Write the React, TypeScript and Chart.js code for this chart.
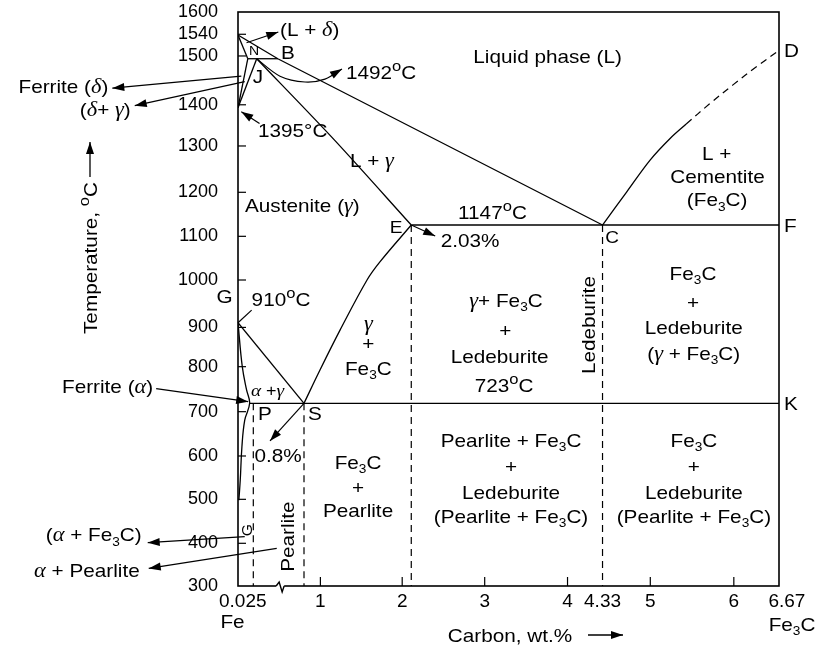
import React, { useEffect, useRef } from 'react';
import { Chart, registerables, LinearScale } from 'chart.js';

Chart.register(...registerables);

// ---------------- data (carbon wt.% / temperature °C) ----------------
const X_TICKS = [0.025, 1, 2, 3, 4, 4.33, 5, 6, 6.67];
const X_TICK_LABELS = ['0.025', '1', '2', '3', '4', '4.33', '5', '6', '6.67'];
const Y_TICKS = [300, 400, 500, 600, 700, 800, 900, 1000, 1100, 1200, 1300, 1400, 1500, 1540, 1600];
const Y_TICK_LABELS = ['300', '400', '500', '600', '700', '800', '900', '1000', '1100', '1200', '1300', '1400', '1500', '1540', '1600'];
const X_MARKS = [1, 2, 3, 4, 5, 6];
const Y_MARKS = [400, 500, 600, 700, 800, 900, 1000, 1100, 1200, 1300, 1400, 1500, 1540];
const AXIS_BREAK_C = 0.42;

// Liquidus A-B-C
const LIQ_ABC_C = [0, 0.4, 4.33];
const LIQ_ABC_T = [1538, 1495, 1147];
// Liquidus C-D (solid part, then dashed part)
const LIQ_CD_C = [4.33, 4.67, 5.0, 5.24, 5.43];
const LIQ_CD_T = [1147, 1201, 1270, 1319, 1354];
const LIQ_CD_EXT_C = [5.43, 5.71, 5.99, 6.34, 6.67];
const LIQ_CD_EXT_T = [1354, 1402, 1441, 1479, 1510];
// delta region
const SOL_AH_C = [0, 0.016];
const SOL_AH_T = [1538, 1495];
const PERI_HB_C = [0.016, 0.4];
const PERI_HB_T = [1495, 1495];
const NH_C = [0, 0.016];
const NH_T = [1394, 1495];
const NJ_C = [0, 0.077];
const NJ_T = [1394, 1495];
// Solidus J-E
const SOL_JE_C = [0.077, 1.17, 2.11];
const SOL_JE_T = [1495, 1315, 1147];
// Eutectic E-C-F
const EUT_C = [2.11, 6.67];
const EUT_T = [1147, 1147];
// A3 line G-S
const GS_C = [0, 0.8];
const GS_T = [912, 723];
// alpha boundary G-P-Q
const GPQ_C = [0, 0.007, 0.014, 0.019, 0.011, 0.0064, 0.0037, 0.0014];
const GPQ_T = [912, 800, 751, 723, 681, 621, 545, 498];
// Acm line E-S
const ES_C = [2.11, 1.73, 1.57, 1.24, 0.995, 0.8];
const ES_T = [1147, 1042, 1000, 893, 793, 723];
// Eutectoid P-S-K
const EUTD_C = [0.019, 6.67];
const EUTD_T = [723, 723];
// dashed composition lines
const DASH_C = [0.025, 0.8, 2.11, 4.33];
const DASH_TOP = [723, 723, 1147, 1147];
const DASH_BOTTOM = 300;

// ---------------- scale calibration (value -> fraction of axis) ----------------
const X_CAL: number[][] = [[0, 0], [0.025, 0.0283], [0.8, 0.122], [1, 0.1523], [2, 0.3035], [3, 0.456], [4, 0.6091], [4.33, 0.6738], [5, 0.7621], [6, 0.9165], [6.67, 1]];
const Y_CAL: number[][] = [[300, 0], [400, 0.0744], [500, 0.151], [600, 0.2265], [700, 0.3037], [723, 0.3183], [800, 0.3821], [912, 0.4587], [1000, 0.5331], [1100, 0.6092], [1147, 0.6289], [1200, 0.6859], [1300, 0.7666], [1394, 0.8333], [1495, 0.9186], [1538, 0.9599], [1600, 1]];

function mapKnots(v: number, k: number[][], a: number, b: number) {
  let i = 0;
  if (v >= k[k.length - 1][a]) i = k.length - 2;
  else if (v > k[0][a]) {
    while (i < k.length - 2 && v > k[i + 1][a]) i++;
  }
  const p0 = k[i], p1 = k[i + 1];
  return p0[b] + ((v - p0[a]) * (p1[b] - p0[b])) / (p1[a] - p0[a]);
}

class KnotScale extends LinearScale {
  static id = 'knot';
  _cal() {
    return (this as any).id === 'x' ? X_CAL : Y_CAL;
  }
  getPixelForValue(value: any) {
    if (value === null || value === undefined || isNaN(value)) return NaN;
    return (this as any).getPixelForDecimal(mapKnots(+value, this._cal(), 0, 1));
  }
  getValueForPixel(pixel: number) {
    return mapKnots((this as any).getDecimalForPixel(pixel), this._cal(), 1, 0);
  }
}
Chart.register(KnotScale as any);

// ---------------- annotations ----------------
type Lbl = { t: string; c: number; T: number; a?: string; s?: number; r?: boolean; dx?: number; dy?: number };
const LABELS: Lbl[] = [
  { t: 'Liquid phase (L)', c: 3.76, T: 1500 },
  { t: '(L + δ)', c: 0.433, T: 1552, a: 'left' },
  { t: 'N', c: 0.036, T: 1510, s: 12.5 },
  { t: 'B', c: 0.555, T: 1507 },
  { t: 'J', c: 0.097, T: 1459 },
  { t: '1492^oC', c: 1.313, T: 1467, a: 'left' },
  { t: '1395°C', c: 0.097, T: 1339, a: 'left' },
  { t: 'L + γ', c: 1.63, T: 1270 },
  { t: 'Austenite (γ)', c: 0.0114, T: 1179, a: 'left' },
  { t: 'E', c: 1.924, T: 1139, s: 17 },
  { t: '1147^oC', c: 3.094, T: 1168 },
  { t: '2.03%', c: 2.822, T: 1091 },
  { t: 'C', c: 4.463, T: 1098, s: 17 },
  { t: 'L +', c: 5.795, T: 1284 },
  { t: 'Cementite', c: 5.805, T: 1234 },
  { t: '(Fe_3C)', c: 5.8, T: 1188 },
  { t: 'γ+ Fe_3C', c: 3.257, T: 959 },
  { t: '+', c: 3.25, T: 893 },
  { t: 'Ledeburite', c: 3.18, T: 827 },
  { t: '723^oC', c: 3.235, T: 761 },
  { t: 'Ledeburite', c: 4.193, T: 906, r: true },
  { t: 'Fe_3C', c: 5.511, T: 1016 },
  { t: '+', c: 5.511, T: 953 },
  { t: 'Ledeburite', c: 5.52, T: 901 },
  { t: '(γ + Fe_3C)', c: 5.52, T: 835 },
  { t: '910^oC', c: 0.448, T: 961 },
  { t: 'γ', c: 1.586, T: 910 },
  { t: '+', c: 1.586, T: 860 },
  { t: 'Fe_3C', c: 1.586, T: 797 },
  { t: 'α +γ', c: 0.242, T: 751, s: 16 },
  { t: 'P', c: 0.204, T: 696 },
  { t: 'S', c: 0.934, T: 697 },
  { t: '0.8%', c: 0.403, T: 602 },
  { t: 'G', c: 0.0144, T: 430, s: 14, r: true },
  { t: 'Pearlite', c: 0.54, T: 415, r: true },
  { t: 'Fe_3C', c: 1.46, T: 586 },
  { t: '+', c: 1.46, T: 528 },
  { t: 'Pearlite', c: 1.46, T: 476 },
  { t: 'Pearlite + Fe_3C', c: 3.318, T: 636 },
  { t: '+', c: 3.318, T: 577 },
  { t: 'Ledeburite', c: 3.318, T: 517 },
  { t: '(Pearlite + Fe_3C)', c: 3.318, T: 462 },
  { t: 'Fe_3C', c: 5.522, T: 636 },
  { t: '+', c: 5.522, T: 577 },
  { t: 'Ledeburite', c: 5.522, T: 517 },
  { t: '(Pearlite + Fe_3C)', c: 5.522, T: 462 },
  { t: 'G', c: 0, T: 912, dx: -13.5, dy: -26 },
  { t: 'D', c: 6.67, T: 1510, a: 'left', dx: 5 },
  { t: 'F', c: 6.67, T: 1147, a: 'left', dx: 5 },
  { t: 'K', c: 6.67, T: 723, a: 'left', dx: 5 },
];

const ARROWS = [
  { tail: [0.0139, 1524], head: [0.407, 1546] },
  { tail: [0.12, 1355], head: [0.0054, 1384.3] },
  { tail: [2.11, 1147], head: [2.4, 1101] },
  { tail: [0.8, 723], head: [0.28, 634] },
];
const CURVE_1492 = [[0.077, 1495], [0.433, 1459], [0.812, 1447], [1.056, 1453], [1.264, 1474]];
const LINE_910 = [[0.0223, 938], [0, 912]];
const OUT_ARROWS = [
  { at: [0.0054, 1459], off: [-129, 12], headAtAnchor: false, t: 'Ferrite (δ)', tdx: -4, tdy: -2 },
  { at: [0.011, 1447.6], off: [-110, 24], headAtAnchor: false, t: '(δ+ γ)', tdx: -4, tdy: 4 },
  { at: [0.0166, 726.4], off: [-92, -13], headAtAnchor: true, t: 'Ferrite (α)', tdx: -3, tdy: -2 },
  { at: [0.011, 415], off: [-97, 6], headAtAnchor: false, t: '(α + Fe_3C)', tdx: -6, tdy: -8 },
  { at: [0.383, 388], off: [-128, 20], headAtAnchor: false, t: 'α + Pearlite', tdx: -9, tdy: 2 },
];

// ---------------- drawing helpers ----------------
const SANS = '"Liberation Sans", Arial, Helvetica, sans-serif';
const SERIF = '"Liberation Serif", "Times New Roman", serif';
const BASE = 18.5;
const SX = 1.12;

function runs(str: string, size: number) {
  const out: any[] = [];
  let buf = '';
  const flush = () => {
    if (buf) out.push({ t: buf, font: `${size}px ${SANS}`, dy: 0 });
    buf = '';
  };
  for (let i = 0; i < str.length; i++) {
    const ch = str[i];
    if (ch === '_') {
      flush();
      out.push({ t: str[++i], font: `${size * 0.66}px ${SANS}`, dy: size * 0.24 });
    } else if (ch === '^') {
      flush();
      out.push({ t: str[++i], font: `${size * 0.8}px ${SANS}`, dy: -size * 0.42 });
    } else if ('αγδ'.includes(ch)) {
      flush();
      out.push({ t: ch, font: `italic ${size * 1.08}px ${SERIF}`, dy: 0 });
    } else buf += ch;
  }
  flush();
  return out;
}

function drawText(ctx: CanvasRenderingContext2D, str: string, x: number, y: number, align = 'center', size = BASE, rot = 0) {
  const rs = runs(str, size);
  let w = 0;
  rs.forEach((r) => {
    ctx.font = r.font;
    r.w = ctx.measureText(r.t).width;
    w += r.w;
  });
  ctx.save();
  ctx.translate(x, y);
  if (rot) ctx.rotate(rot);
  ctx.scale(SX, 1);
  let cx = align === 'center' ? -w / 2 : align === 'right' ? -w : 0;
  ctx.textAlign = 'left';
  ctx.textBaseline = 'alphabetic';
  ctx.fillStyle = '#000';
  const base = size * 0.36;
  rs.forEach((r) => {
    ctx.font = r.font;
    ctx.fillText(r.t, cx, base + r.dy);
    cx += r.w;
  });
  ctx.restore();
}

function arrowHead(ctx: CanvasRenderingContext2D, from: number[], to: number[], len = 12, half = 4) {
  const ang = Math.atan2(to[1] - from[1], to[0] - from[0]);
  const c = Math.cos(ang), s = Math.sin(ang);
  ctx.beginPath();
  ctx.moveTo(to[0], to[1]);
  ctx.lineTo(to[0] - len * c + half * s, to[1] - len * s - half * c);
  ctx.lineTo(to[0] - len * c - half * s, to[1] - len * s + half * c);
  ctx.closePath();
  ctx.fill();
}

function straightArrow(ctx: CanvasRenderingContext2D, p0: number[], p1: number[], head = true) {
  ctx.beginPath();
  ctx.moveTo(p0[0], p0[1]);
  ctx.lineTo(p1[0], p1[1]);
  ctx.stroke();
  if (head) arrowHead(ctx, p0, p1);
}

const diagramPlugin = {
  id: 'diagram',
  afterDraw(chart: any) {
    const { ctx, chartArea: a } = chart;
    const xs = chart.scales.x, ys = chart.scales.y;
    const P = (c: number, t: number) => [xs.getPixelForValue(c), ys.getPixelForValue(t)];
    ctx.save();
    ctx.strokeStyle = '#000';
    ctx.fillStyle = '#000';
    ctx.lineCap = 'butt';

    // frame
    ctx.lineWidth = 1.6;
    ctx.strokeRect(a.left, a.top, a.right - a.left, a.bottom - a.top);

    // inward tick marks
    ctx.lineWidth = 1.2;
    Y_MARKS.forEach((v) => {
      const py = ys.getPixelForValue(v);
      ctx.beginPath();
      ctx.moveTo(a.left, py);
      ctx.lineTo(a.left + 8, py);
      ctx.stroke();
    });
    X_MARKS.forEach((v) => {
      const px = xs.getPixelForValue(v);
      ctx.beginPath();
      ctx.moveTo(px, a.bottom);
      ctx.lineTo(px, a.bottom - 9);
      ctx.stroke();
    });

    // axis break
    const bx = xs.getPixelForValue(AXIS_BREAK_C);
    ctx.fillStyle = '#fff';
    ctx.fillRect(bx - 3, a.bottom - 2, 8, 4);
    ctx.fillStyle = '#000';
    ctx.lineWidth = 1.4;
    ctx.beginPath();
    ctx.moveTo(bx - 3, a.bottom);
    ctx.lineTo(bx, a.bottom - 4);
    ctx.lineTo(bx + 3, a.bottom + 6);
    ctx.lineTo(bx + 5, a.bottom);
    ctx.stroke();

    // arrows
    ctx.lineWidth = 1.2;
    ARROWS.forEach((ar) => straightArrow(ctx, P(ar.tail[0], ar.tail[1]), P(ar.head[0], ar.head[1])));
    straightArrow(ctx, P(LINE_910[0][0], LINE_910[0][1]), P(LINE_910[1][0], LINE_910[1][1]), false);

    // curved 1492 arrow
    const cp = CURVE_1492.map((p) => P(p[0], p[1]));
    ctx.beginPath();
    ctx.moveTo(cp[0][0], cp[0][1]);
    for (let i = 0; i < cp.length - 1; i++) {
      const p0 = cp[i - 1] || cp[i], p1 = cp[i], p2 = cp[i + 1], p3 = cp[i + 2] || cp[i + 1];
      ctx.bezierCurveTo(
        p1[0] + (p2[0] - p0[0]) / 6, p1[1] + (p2[1] - p0[1]) / 6,
        p2[0] - (p3[0] - p1[0]) / 6, p2[1] - (p3[1] - p1[1]) / 6,
        p2[0], p2[1]
      );
    }
    ctx.stroke();
    arrowHead(ctx, cp[cp.length - 2], cp[cp.length - 1]);

    // arrows to outside labels
    OUT_ARROWS.forEach((o) => {
      const an = P(o.at[0], o.at[1]);
      const ot = [an[0] + o.off[0], an[1] + o.off[1]];
      if (o.headAtAnchor) straightArrow(ctx, ot, an);
      else straightArrow(ctx, an, ot);
      drawText(ctx, o.t, ot[0] + o.tdx, ot[1] + o.tdy, 'right');
    });

    // labels
    LABELS.forEach((l) => {
      const p = P(l.c, l.T);
      drawText(ctx, l.t, p[0] + (l.dx || 0), p[1] + (l.dy || 0), l.a || 'center', l.s || BASE, l.r ? -Math.PI / 2 : 0);
    });

    // composition names under the axis
    const fe = P(0, 300);
    drawText(ctx, 'Fe', fe[0] - 5.5, a.bottom + 35);
    drawText(ctx, 'Fe_3C', a.right + 13, a.bottom + 38);

    // axis titles
    drawText(ctx, 'Temperature, ^oC', 90, 258, 'center', BASE, -Math.PI / 2);
    ctx.lineWidth = 1.3;
    straightArrow(ctx, [90, 177], [90, 142]);
    drawText(ctx, 'Carbon, wt.%', 510, 635);
    straightArrow(ctx, [588, 635], [623, 635]);

    ctx.restore();
  },
};

function ds(c: number[], t: number[], extra: any = {}) {
  return {
    data: c.map((x, i) => ({ x, y: t[i] })),
    showLine: true,
    borderColor: '#000',
    backgroundColor: '#000',
    borderWidth: 1.3,
    pointRadius: 0,
    pointHoverRadius: 0,
    fill: false,
    tension: 0,
    ...extra,
  };
}

export default function App() {
  const ref = useRef<HTMLCanvasElement>(null);
  useEffect(() => {
    if (!ref.current) return;
    const datasets: any[] = [
      ds(LIQ_ABC_C, LIQ_ABC_T),
      ds(LIQ_CD_C, LIQ_CD_T, { tension: 0.35 }),
      ds(LIQ_CD_EXT_C, LIQ_CD_EXT_T, { tension: 0.35, borderDash: [7, 5], borderWidth: 1.2 }),
      ds(SOL_AH_C, SOL_AH_T),
      ds(PERI_HB_C, PERI_HB_T),
      ds(NH_C, NH_T),
      ds(NJ_C, NJ_T),
      ds(SOL_JE_C, SOL_JE_T, { tension: 0.3 }),
      ds(EUT_C, EUT_T),
      ds(GS_C, GS_T),
      ds(GPQ_C, GPQ_T, { tension: 0.4 }),
      ds(ES_C, ES_T, { tension: 0.35 }),
      ds(EUTD_C, EUTD_T),
    ];
    DASH_C.forEach((c, i) => {
      datasets.push(ds([c, c], [DASH_TOP[i], DASH_BOTTOM], { borderDash: [7, 5], borderWidth: 1.2 }));
    });
    const tickFont = { family: SANS, size: 18 };
    const lastX = X_TICK_LABELS.length - 1;
    const chart = new Chart(ref.current, {
      type: 'scatter',
      data: { datasets },
      options: {
        animation: false,
        responsive: false,
        devicePixelRatio: 1,
        events: [],
        layout: { padding: { left: 0, top: 12, right: 38, bottom: 0 } },
        plugins: { legend: { display: false }, tooltip: { enabled: false }, title: { display: false } },
        scales: {
          x: {
            type: 'knot' as any,
            min: 0,
            max: 6.67,
            grid: { display: false, drawTicks: false },
            border: { display: false },
            afterBuildTicks: (s: any) => {
              s.ticks = X_TICKS.map((v) => ({ value: v }));
            },
            afterFit: (s: any) => {
              s.height = 60;
              s.paddingLeft = 0;
              s.paddingRight = 0;
            },
            ticks: {
              autoSkip: false,
              maxRotation: 0,
              minRotation: 0,
              padding: 4,
              color: '#000',
              font: { family: SANS, size: 19 },
              callback: (_v: any, i: number) =>
                i === 0 ? X_TICK_LABELS[i] + '    ' : i === lastX ? '   ' + X_TICK_LABELS[i] : X_TICK_LABELS[i],
            },
          },
          y: {
            type: 'knot' as any,
            min: 300,
            max: 1600,
            grid: { display: false, drawTicks: false },
            border: { display: false },
            afterBuildTicks: (s: any) => {
              s.ticks = Y_TICKS.map((v) => ({ value: v }));
            },
            afterFit: (s: any) => {
              s.width = 238;
              s.paddingTop = 0;
              s.paddingBottom = 0;
            },
            ticks: {
              autoSkip: false,
              padding: 20,
              color: '#000',
              font: tickFont,
              callback: (_v: any, i: number) => Y_TICK_LABELS[i],
            },
          },
        },
      } as any,
      plugins: [diagramPlugin],
    });
    return () => chart.destroy();
  }, []);
  return (
    <div style={{ position: 'fixed', left: 0, top: 0, width: 817, height: 646, background: '#fff' }}>
      <canvas ref={ref} width={817} height={646} style={{ display: 'block' }} />
    </div>
  );
}
